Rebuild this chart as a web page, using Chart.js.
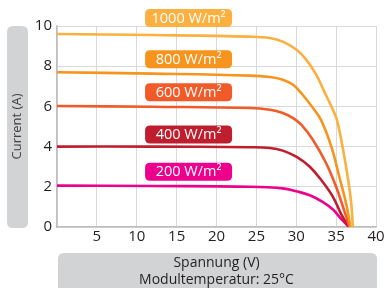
<!DOCTYPE html>
<html><head><meta charset="utf-8">
<script src="https://cdn.jsdelivr.net/npm/chart.js@4/dist/chart.umd.min.js"></script>
<style>html,body{margin:0;padding:0;background:#fff;}#wrap{width:389px;height:288px;position:relative;}</style>
</head><body><div id="wrap"><canvas id="c" width="389" height="288"></canvas></div>
<script>
const seriesLabels = ['1000 W/m²','800 W/m²','600 W/m²','400 W/m²','200 W/m²'];
const seriesColors = ['#FBB040','#F7941D','#F15A29','#BE1E2D','#EC008C'];
const labelY = [10.4, 8.35, 6.7, 4.6, 2.75];
const xTicks = [5,10,15,20,25,30,35,40];
const yTicks = [0,2,4,6,8,10];
const s1000 = [[0,9.6],[12,9.55],[24.2,9.47],[26.7,9.4],[28.3,9.22],[30,8.83],[31.25,8.33],[32.5,7.58],[33.5,6.75],[34.6,5.83],[35.1,5.33],[35.8,4.0],[36.45,2.5],[36.9,1.17],[37.1,0]];
const s800 = [[0,7.7],[12,7.63],[24.2,7.53],[26.7,7.46],[28.3,7.33],[29.6,7.08],[30.8,6.58],[32.1,5.92],[33.1,5.33],[34.4,4.0],[35.4,2.5],[36.25,1.17],[36.8,0]];
const s600 = [[0,6.02],[12,5.98],[24.2,5.92],[26.7,5.83],[28.3,5.67],[29.6,5.42],[30.6,5.1],[32.1,4.33],[33.75,3.17],[35,2.0],[36,0.83],[36.7,0]];
const s400 = [[0,4.0],[12,4.0],[24.2,3.97],[26.7,3.93],[28.3,3.8],[30,3.5],[31.7,3.0],[33.3,2.25],[34.6,1.5],[35.6,0.67],[36.6,0]];
const s200 = [[0,2.06],[12,2.04],[24.2,2.0],[28.3,1.92],[30,1.78],[31.7,1.58],[33.3,1.25],[34.6,0.87],[35.6,0.42],[36.6,0]];
const allSeries = [s1000,s800,s600,s400,s200];
const xTitle = ['Spannung (V)','Modultemperatur: 25°C'];
const yTitle = 'Current (A)';

const FONT = '"Open Sans", Lato, sans-serif';
function rr(ctx,x,y,w,h,r){ctx.beginPath();ctx.moveTo(x+r,y);ctx.lineTo(x+w-r,y);ctx.quadraticCurveTo(x+w,y,x+w,y+r);ctx.lineTo(x+w,y+h-r);ctx.quadraticCurveTo(x+w,y+h,x+w-r,y+h);ctx.lineTo(x+r,y+h);ctx.quadraticCurveTo(x,y+h,x,y+h-r);ctx.lineTo(x,y+r);ctx.quadraticCurveTo(x,y,x+r,y);ctx.closePath();}

const deco = {
  id:'deco',
  afterDraw(chart){
    const ctx = chart.ctx, a = chart.chartArea, xs = chart.scales.x, ys = chart.scales.y;
    ctx.save();
    ctx.fillStyle = '#D1D3D4';
    rr(ctx, 7, a.top, 21, a.bottom - a.top + 1, 6); ctx.fill();
    ctx.save(); ctx.translate(17.5, (a.top+a.bottom)/2); ctx.rotate(-Math.PI/2);
    ctx.fillStyle = '#414042'; ctx.font = '13px '+FONT; ctx.textAlign='center'; ctx.textBaseline='middle';
    ctx.fillText(yTitle, 0, 0); ctx.restore();
    ctx.fillStyle = '#D1D3D4';
    rr(ctx, a.left+1, 253, a.right - a.left, 45, 6); ctx.fill();
    ctx.fillStyle = '#231F20'; ctx.font = '14px '+FONT; ctx.textAlign='center'; ctx.textBaseline='middle';
    ctx.fillText(xTitle[0], (a.left+a.right)/2, 263);
    ctx.fillText(xTitle[1], (a.left+a.right)/2, 280);
    seriesLabels.forEach((t,i)=>{
      const cx = xs.getPixelForValue(16.5), cy = ys.getPixelForValue(labelY[i]);
      ctx.fillStyle = seriesColors[i];
      rr(ctx, cx-43.5, cy-9, 87, 18, 5); ctx.fill();
      ctx.fillStyle = '#fff'; ctx.font = '14.5px '+FONT; ctx.textAlign='center'; ctx.textBaseline='middle';
      ctx.fillText(t, cx, cy+0.5);
    });
    ctx.restore();
  }
};

new Chart(document.getElementById('c'), {
  type:'line',
  data:{datasets: allSeries.map((s,i)=>({
    label: seriesLabels[i],
    data: s.map(p=>({x:p[0],y:p[1]})),
    borderColor: seriesColors[i], borderWidth: 2.6, pointRadius:0, fill:false,
    tension:0.4, borderJoinStyle:'round', borderCapStyle:'round'
  }))},
  options:{
    responsive:false, animation:false, devicePixelRatio:1,
    layout:{padding:{top:26,right:13,left:0,bottom:0}},
    plugins:{legend:{display:false}, tooltip:{enabled:false}},
    scales:{
      x:{type:'linear', min:0, max:40,
        afterBuildTicks(s){ s.ticks = [0].concat(xTicks).map(v=>({value:v})); },
        afterFit(s){ s.height = 61; },
        ticks:{callback:v=> v===0 ? '' : String(v), color:'#231F20', font:{size:15, family:FONT}, padding:1, maxRotation:0, autoSkip:false},
        grid:{color:'#D9D9D9', lineWidth:1, drawTicks:false},
        border:{color:'#BCBEC0', width:1.5}
      },
      y:{min:0, max:10,
        afterBuildTicks(s){ s.ticks = yTicks.map(v=>({value:v})); },
        afterFit(s){ s.width = 57; },
        ticks:{color:'#231F20', font:{size:15, family:FONT}, padding:5},
        grid:{color:'#D9D9D9', lineWidth:1, drawTicks:false},
        border:{color:'#BCBEC0', width:1.5}
      }
    }
  },
  plugins:[deco]
});
</script></body></html>
